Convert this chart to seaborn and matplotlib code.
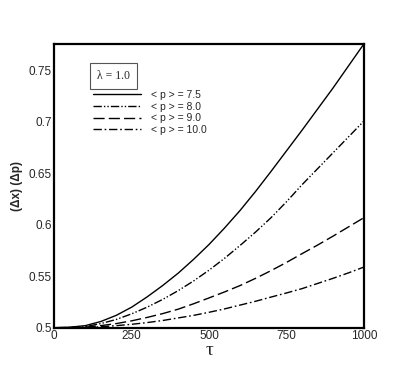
import matplotlib
matplotlib.use("Agg")
import matplotlib.pyplot as plt
import seaborn as sns
import pandas as pd
from matplotlib.ticker import MultipleLocator, AutoMinorLocator

sns.set_style("white")
plt.rcParams['font.family'] = ['Liberation Sans', 'DejaVu Sans']

tau = [0, 50, 100, 150, 200, 250, 300, 350, 400, 450, 500, 550, 600, 650,
       700, 750, 800, 850, 900, 950, 1000]
p75 = [0.5, 0.5005, 0.502, 0.506, 0.512, 0.520, 0.530, 0.541, 0.553, 0.5665,
       0.581, 0.597, 0.614, 0.6325, 0.652, 0.672, 0.692, 0.7125, 0.733, 0.7545, 0.776]
p80 = [0.5, 0.5002, 0.501, 0.504, 0.508, 0.5135, 0.520, 0.5275, 0.536, 0.5455,
       0.556, 0.5675, 0.580, 0.593, 0.607, 0.6225, 0.639, 0.6545, 0.670, 0.6855, 0.701]
p90 = [0.5, 0.5001, 0.5005, 0.502, 0.504, 0.5067, 0.510, 0.5137, 0.518, 0.5233,
       0.529, 0.5348, 0.541, 0.548, 0.5555, 0.5635, 0.572, 0.5803, 0.589, 0.598, 0.607]
p100 = [0.5, 0.5, 0.5002, 0.5009, 0.502, 0.5033, 0.505, 0.507, 0.5095, 0.512,
        0.515, 0.5183, 0.522, 0.5257, 0.5298, 0.5338, 0.538, 0.543, 0.548, 0.5533, 0.559]
labels = ["< p > = 7.5", "< p > = 8.0", "< p > = 9.0", "< p > = 10.0"]
series = [p75, p80, p90, p100]

rows = []
for lab, vals in zip(labels, series):
    for t, v in zip(tau, vals):
        rows.append({"tau": t, "val": v, "series": lab})
df = pd.DataFrame(rows)

dashes = {
    labels[0]: "",
    labels[1]: (6, 1.5, 1, 1.5, 1, 1.5),
    labels[2]: (8, 3),
    labels[3]: (6, 2, 1.2, 2),
}

fig = plt.figure(figsize=(4.15, 3.7), dpi=100)
ax = fig.add_axes([0.1308, 0.1143, 0.7463, 0.766])
sns.lineplot(data=df, x="tau", y="val", style="series", dashes=dashes,
             color="black", linewidth=1.0, ax=ax, legend=False, sort=True)

ax.set_xlim(0, 1000)
ax.set_ylim(0.5, 0.7755)
ax.xaxis.set_major_locator(MultipleLocator(250))
ax.xaxis.set_minor_locator(MultipleLocator(50))
ax.yaxis.set_major_locator(MultipleLocator(0.05))
ax.yaxis.set_minor_locator(AutoMinorLocator(4))
ax.yaxis.set_major_formatter(matplotlib.ticker.FuncFormatter(lambda v, p: ("%g" % round(v, 4))))
ax.tick_params(which="both", direction="in", top=False, right=False, labelsize=8.5, pad=2)
ax.tick_params(which="major", length=5, width=1)
ax.tick_params(which="minor", length=3, width=0.8)
for s in ax.spines.values():
    s.set_linewidth(1.6)
    s.set_color("black")

ax.set_xlabel("τ", fontsize=14, family=["Liberation Serif", "DejaVu Serif"], labelpad=0)
ax.set_ylabel("(Δx) (Δp)", fontsize=8.5, fontweight="bold", labelpad=4)

handles = ax.get_lines()[:4]
ax.legend(handles, labels, frameon=False, fontsize=7.5, loc="upper left",
          bbox_to_anchor=(0.11, 0.853), handlelength=4.7, handletextpad=0.9,
          labelspacing=0.15, borderaxespad=0)

ax.text(0.19, 0.888, "λ = 1.0", transform=ax.transAxes, fontsize=8.5,
        family=["Liberation Serif", "DejaVu Serif"], ha="center", va="center",
        bbox=dict(boxstyle="square,pad=0.6", facecolor="white", edgecolor="#555555", linewidth=0.8))

fig.savefig("out.png", dpi=100)
